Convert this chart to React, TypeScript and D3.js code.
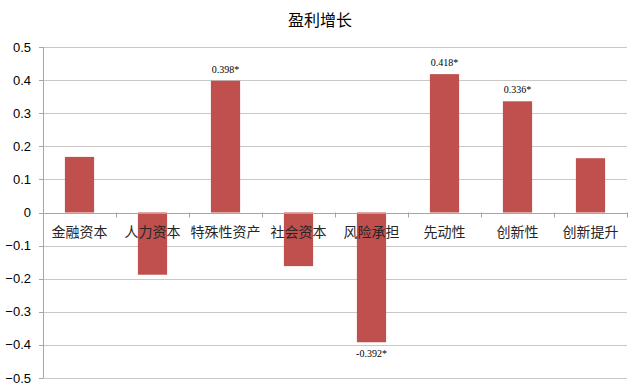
import React from "react";
import * as d3 from "d3";

const title = "盈利增长";
const categories = ["金融资本", "人力资本", "特殊性资产", "社会资本", "风险承担", "先动性", "创新性", "创新提升"];
const values = [0.168, -0.188, 0.398, -0.162, -0.392, 0.418, 0.336, 0.164];
const valueLabels = ["", "", "0.398*", "", "-0.392*", "0.418*", "0.336*", ""];
const yTicks = [0.5, 0.4, 0.3, 0.2, 0.1, 0, -0.1, -0.2, -0.3, -0.4, -0.5];

const W = 640, H = 392;
const left = 43, right = 627, top = 47, bottom = 378;

export default function App() {
  const x = d3.scaleBand<string>().domain(categories).range([left, right]).paddingInner(0).paddingOuter(0);
  const y = d3.scaleLinear().domain([-0.5, 0.5]).range([bottom, top]);
  const bw = x.bandwidth() * 0.4;
  const y0 = y(0);
  return (
    <svg width={W} height={H} style={{ position: "absolute", left: 0, top: 0, background: "#fff" }}>
      <text x={320} y={26} textAnchor="middle" fontSize={16} fontFamily="'Noto Sans CJK SC', sans-serif" fill="#000">{title}</text>
      {yTicks.map((t) => (
        <g key={t}>
          <line x1={left} x2={right} y1={Math.round(y(t)) + 0.5} y2={Math.round(y(t)) + 0.5} stroke="#c8c8c8" strokeWidth={1} />
          <line x1={left - 4} x2={left} y1={Math.round(y(t)) + 0.5} y2={Math.round(y(t)) + 0.5} stroke="#a6a6a6" />
          <text x={31} y={y(t) + 4.5} textAnchor="end" fontSize={13} fontFamily="'Liberation Sans', Arial, sans-serif" fill="#000">{d3.format("")(t)}</text>
        </g>
      ))}
      <line x1={left + 0.5} x2={left + 0.5} y1={top} y2={bottom} stroke="#a6a6a6" />
      {categories.map((c, i) => {
        const v = values[i];
        const cx = (x(c) as number) + x.bandwidth() / 2;
        const yTop = v >= 0 ? y(v) : y0;
        const h = Math.abs(y(v) - y0);
        return (
          <g key={c}>
            <rect x={cx - bw / 2} y={yTop} width={bw} height={h} fill="#C0504D" />
          </g>
        );
      })}
      <line x1={left} x2={right} y1={Math.round(y0) + 0.5} y2={Math.round(y0) + 0.5} stroke="#a6a6a6" />
      {categories.map((c, i) => (
        <line key={"t" + c} x1={Math.round((x(c) as number) + x.bandwidth()) + 0.5} x2={Math.round((x(c) as number) + x.bandwidth()) + 0.5} y1={y0} y2={y0 + 5} stroke="#a6a6a6" />
      ))}
      {categories.map((c) => (
        <text key={"l" + c} x={(x(c) as number) + x.bandwidth() / 2} y={y0 + 24} textAnchor="middle" fontSize={14} fontFamily="'Noto Sans CJK SC', sans-serif" fill="#262626">{c}</text>
      ))}
      {categories.map((c, i) => {
        if (!valueLabels[i]) return null;
        const v = values[i];
        const cx = (x(c) as number) + x.bandwidth() / 2;
        const ty = v >= 0 ? y(v) - 8 : y(v) + 15;
        return (
          <text key={"v" + c} x={cx} y={ty} textAnchor="middle" fontSize={10} fontFamily="'Liberation Serif', 'Times New Roman', serif" fill="#000">{valueLabels[i]}</text>
        );
      })}
    </svg>
  );
}
